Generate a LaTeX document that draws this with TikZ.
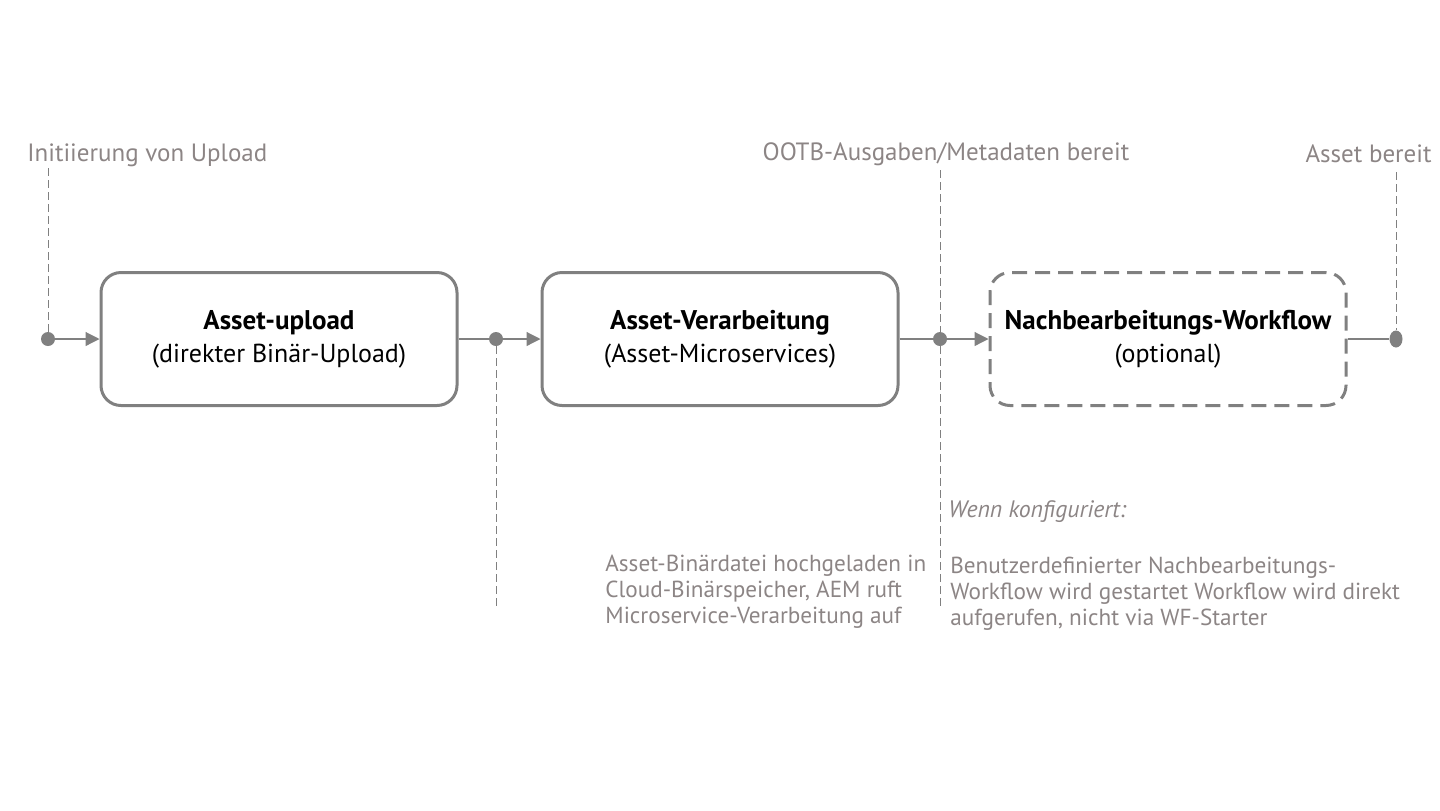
\documentclass[tikz,border=0pt]{standalone}
\usepackage{fontspec}
\setmainfont{PT Sans}
\usetikzlibrary{arrows.meta,shapes.geometric}
\definecolor{linieGrau}{RGB}{128,128,128}
\definecolor{textGrau}{RGB}{140,133,133}

\begin{document}
\begin{tikzpicture}[
  x=0.5pt, y=-0.5pt,
  font=\fontsize{13}{16.5}\selectfont,
  >=Triangle,
  etappe/.style={
    rectangle,
    rounded corners=10pt,
    draw=linieGrau,
    fill=white,
    line width=1.5pt,
    minimum width=178pt,
    minimum height=66.5pt,
    inner sep=0pt,
    align=center,
  },
  optional/.style={etappe, dash pattern=on 7.5pt off 4pt},
  punkt/.style={circle, fill=linieGrau, inner sep=0pt, minimum size=7pt},
  fluss/.style={linieGrau, line width=0.6pt, -{Triangle[length=7pt,width=7pt]}},
  strich/.style={linieGrau, line width=0.6pt},
  marke/.style={linieGrau, line width=0.5pt, dash pattern=on 4pt off 2pt},
  label/.style={text=textGrau, inner sep=0pt, font=\fontsize{12.5}{14}\selectfont},
  notiz/.style={text=textGrau, inner sep=0pt, anchor=north west, align=left,
    font=\fontsize{11.6}{12.8}\selectfont},
]
  \useasboundingbox (0,0) rectangle (1440,810);

  % Etappen
  \node[etappe] (upload) at (279,339)
    {{\fontsize{13.5}{16.5}\selectfont\bfseries Asset-upload}\\(direkter Binär-Upload)};
  \node[etappe] (verarb) at (720,339)
    {{\fontsize{13.5}{16.5}\selectfont\bfseries Asset-Verarbeitung}\\(Asset-Microservices)};
  \node[optional] (nachb) at (1168,339)
    {{\fontsize{13.5}{16.5}\selectfont\bfseries Nachbearbeitungs-Workflow}\\(optional)};

  % Punkte
  \node[punkt] (p1) at (48,339) {};
  \node[punkt] (p2) at (496,339) {};
  \node[punkt] (p3) at (940,339) {};
  \node[ellipse, fill=linieGrau, inner sep=0pt, minimum width=6.5pt,
    minimum height=8.5pt] (p4) at (1396,339) {};

  % Fluss
  \draw[fluss] (p1) -- (upload);
  \draw[strich] (upload) -- (p2);
  \draw[fluss] (p2) -- (verarb);
  \draw[strich] (verarb) -- (p3);
  \draw[fluss] (p3) -- (nachb);
  \draw[strich] (nachb) -- (p4);

  % Meilensteine
  \node[label, anchor=west] (initLbl) at (27,155) {Initiierung von Upload};
  \node[label] (ootbLbl) at (946,154) {OOTB-Ausgaben/Metadaten bereit};
  \node[label, anchor=east] (bereitLbl) at (1432,154) {Asset bereit};

  \coordinate (m1) at (48,168);
  \coordinate (m2) at (496,610);
  \coordinate (m3a) at (940,170);
  \coordinate (m3b) at (940,610);
  \coordinate (m4) at (1396,172);

  \draw[marke] (m1) -- (p1);
  \draw[marke] (p2) -- (m2);
  \draw[marke] (m3a) -- (p3) -- (m3b);
  \draw[marke] (m4) -- (p4);

  % Notizen
  \node[notiz] (binaer) at (605,555)
    {Asset-Binärdatei hochgeladen in\\Cloud-Binärspeicher, AEM ruft\\Microservice-Verarbeitung auf};
  \node[notiz, font=\fontsize{11.9}{12.8}\selectfont\itshape] (wenn) at (948,500)
    {Wenn konfiguriert:};
  \node[notiz] (benutzer) at (950,557)
    {Benutzerdefinierter Nachbearbeitungs-\\Workflow wird gestartet Workflow wird direkt\\aufgerufen, nicht via WF-Starter};

\end{tikzpicture}
\end{document}
